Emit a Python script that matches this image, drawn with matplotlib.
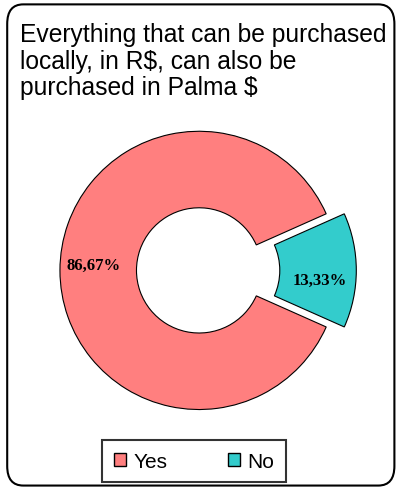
import matplotlib.pyplot as plt
from matplotlib.patches import FancyBboxPatch, Patch

labels = ['Yes', 'No']
values = [86.67, 13.33]
value_labels = ['86,67%', '13,33%']
colors = ['#FF7F7F', '#33CCCC']

fig = plt.figure(figsize=(4, 4.89), dpi=100)

# rounded frame around the whole chart
frame = FancyBboxPatch((0.018, 0.005), 0.968, 0.984, boxstyle='round,pad=0,rounding_size=0.04',
                       transform=fig.transFigure, facecolor='none', edgecolor='black',
                       linewidth=1.5, zorder=-1)
fig.patches.append(frame)

fig.text(0.05, 0.952, 'Everything that can be purchased\nlocally, in R$, can also be\npurchased in Palma $',
         ha='left', va='top', fontsize=17.7, family='Liberation Sans', linespacing=1.12)

ax = fig.add_axes([0.1325, 0.07, 0.8, 0.75])
wedges, _ = ax.pie(values, colors=colors, startangle=24, explode=[0, 0.13],
                   wedgeprops=dict(width=0.55, edgecolor='black', linewidth=0.8))
ax.set_aspect('equal')
ax.set_xlim(-1.05, 1.25)
ax.set_ylim(-1.15, 1.15)

ax.text(-0.755, 0.04, value_labels[0], ha='center', va='center', fontsize=12,
        fontweight='bold', family='Liberation Serif')
ax.text(0.87, -0.065, value_labels[1], ha='center', va='center', fontsize=12,
        fontweight='bold', family='Liberation Serif')

handles = [Patch(facecolor=c, edgecolor='black', label=l) for c, l in zip(colors, labels)]
leg = fig.legend(handles=handles, loc='lower center', bbox_to_anchor=(0.485, 0.012), ncol=2,
                 frameon=True, fancybox=False, edgecolor='black', borderaxespad=0,
                 prop={'family': 'Liberation Sans', 'size': 15},
                 handlelength=0.6, handleheight=0.6, handletextpad=0.35,
                 columnspacing=2.9, borderpad=0.55)
leg.get_frame().set_linewidth(1.5)

fig.savefig('out.png', dpi=100)
